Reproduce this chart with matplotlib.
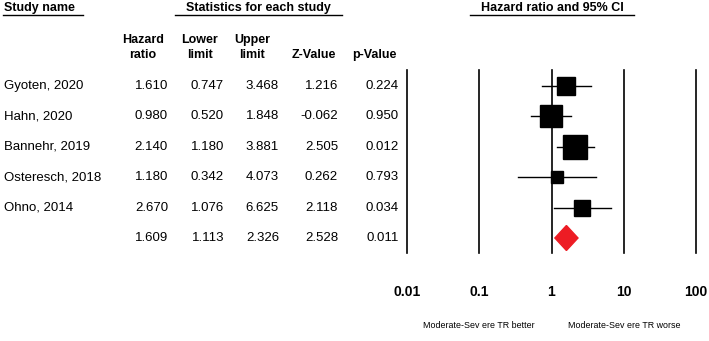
import numpy as np
import matplotlib
matplotlib.use("Agg")
import matplotlib.pyplot as plt
from matplotlib.patches import Polygon

plt.rcParams['font.family'] = ['Liberation Sans', 'DejaVu Sans']

studies = ["Gyoten, 2020", "Hahn, 2020", "Bannehr, 2019", "Osteresch, 2018", "Ohno, 2014"]
hr = [1.610, 0.980, 2.140, 1.180, 2.670]
lower = [0.747, 0.520, 1.180, 0.342, 1.076]
upper = [3.468, 1.848, 3.881, 4.073, 6.625]
zval = [1.216, -0.062, 2.505, 0.262, 2.118]
pval = [0.224, 0.950, 0.012, 0.793, 0.034]

pooled_hr = 1.609
pooled_lower = 1.113
pooled_upper = 2.326
pooled_z = 2.528
pooled_p = 0.011

xticks = [0.01, 0.1, 1, 10, 100]
xticklabels = ["0.01", "0.1", "1", "10", "100"]
label_left = "Moderate-Sev ere TR better"
label_right = "Moderate-Sev ere TR worse"

W, H = 709, 341
fig = plt.figure(figsize=(W / 100, H / 100), dpi=100)
ax0 = fig.add_axes([0, 0, 1, 1])
ax0.set_xlim(0, W)
ax0.set_ylim(H, 0)
ax0.axis('off')

# Headers
fs = 9.5
ax0.text(4, 8, "Study name", fontsize=9, fontweight='bold', ha='left', va='center')
ax0.plot([3, 83], [15, 15], color='black', lw=1)
ax0.text(258, 8, "Statistics for each study", fontsize=9, fontweight='bold', ha='center', va='center')
ax0.plot([175, 342], [15, 15], color='black', lw=1)
ax0.text(552, 8, "Hazard ratio and 95% CI", fontsize=9, fontweight='bold', ha='center', va='center')
ax0.plot([470, 634], [15, 15], color='black', lw=1)

col_right = [168, 224, 279, 338, 399]
hdr = [("Hazard", "ratio"), ("Lower", "limit"), ("Upper", "limit"), ("", "Z-Value"), ("", "p-Value")]
hdr_center = [143, 200, 252, 314, 374]
for (a, b), xc in zip(hdr, hdr_center):
    if a:
        ax0.text(xc, 40, a, fontsize=9, fontweight='bold', ha='center', va='center')
    ax0.text(xc, 55, b, fontsize=9, fontweight='bold', ha='center', va='center')

row_y0, row_dy = 86, 30.4
for i, name in enumerate(studies):
    y = row_y0 + i * row_dy
    ax0.text(4, y, name, fontsize=fs, ha='left', va='center')
    vals = [f"{hr[i]:.3f}", f"{lower[i]:.3f}", f"{upper[i]:.3f}", f"{zval[i]:.3f}", f"{pval[i]:.3f}"]
    for v, xr in zip(vals, col_right):
        ax0.text(xr, y, v, fontsize=fs, ha='right', va='center')
ys = row_y0 + len(studies) * row_dy
for v, xr in zip([pooled_hr, pooled_lower, pooled_upper, pooled_z, pooled_p], col_right):
    ax0.text(xr, ys, f"{v:.3f}", fontsize=fs, ha='right', va='center')

# Forest axes
x_left, x_right = 407, 696
y_top, y_bot = 70, 253
ax = fig.add_axes([x_left / W, 1 - y_bot / H, (x_right - x_left) / W, (y_bot - y_top) / H])
ax.set_xscale('log')
ax.set_xlim(0.01, 100)
rows_top = -(row_y0 - y_top) / row_dy
rows_bot = (y_bot - row_y0) / row_dy
ax.set_ylim(rows_bot, rows_top)
ax.axis('off')
for t in xticks:
    ax.axvline(t, color='black', lw=1.2, clip_on=False)

se = (np.log(upper) - np.log(lower)) / (2 * 1.96)
w = 1 / se**2
side_px = 24 * np.sqrt(w / w.max())
for i in range(len(studies)):
    ax.plot([lower[i], upper[i]], [i, i], color='black', lw=1, zorder=3)
    ax.plot([hr[i]], [i], marker='s', color='black', markersize=side_px[i] * 0.72, zorder=4)

n = len(studies)
dh = 12.5 / row_dy
diamond = Polygon([[pooled_lower, n], [pooled_hr, n - dh], [pooled_upper, n], [pooled_hr, n + dh]],
                  closed=True, facecolor='#ED1C24', edgecolor='#ED1C24', zorder=4)
ax.add_patch(diamond)

for t, lab in zip(xticks, xticklabels):
    ax0.text(x_left + (np.log10(t) + 2) / 4 * (x_right - x_left), 292, lab,
             fontsize=10, fontweight='bold', ha='center', va='center')

ax0.text(x_left + 0.25 * (x_right - x_left), 325, label_left, fontsize=6.4,
         ha='center', va='center')
ax0.text(x_left + 0.75 * (x_right - x_left), 325, label_right, fontsize=6.4,
         ha='center', va='center')

fig.savefig("out.png", dpi=100)
